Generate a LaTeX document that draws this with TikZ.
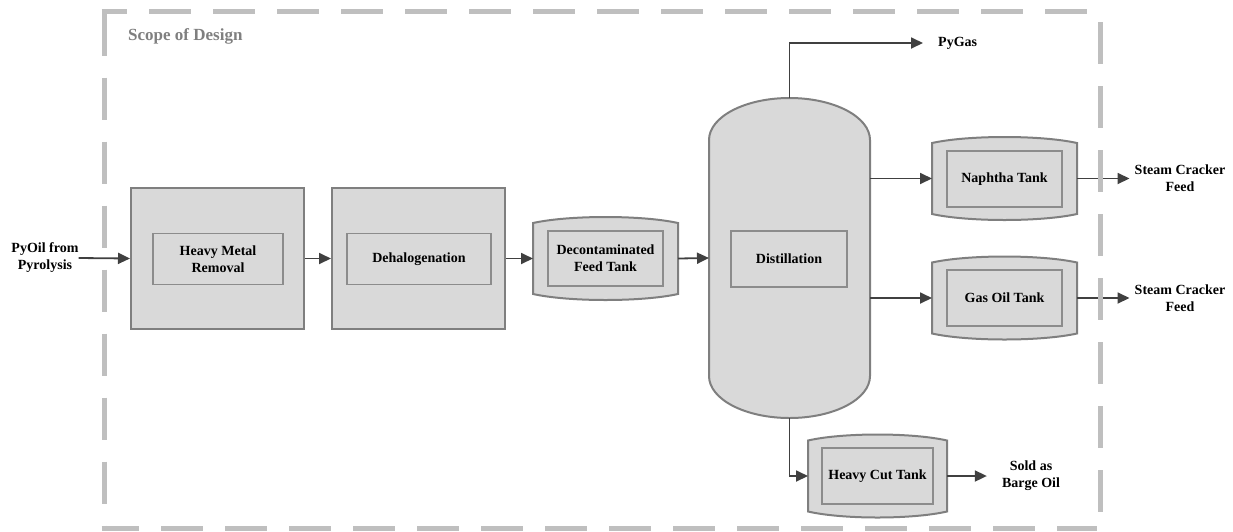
\documentclass[tikz,border=0pt]{standalone}
\usepackage{fontspec}
\setmainfont{Liberation Serif}
\usetikzlibrary{arrows.meta}
\definecolor{fillg}{HTML}{D9D9D9}
\definecolor{edgeg}{HTML}{7F7F7F}
\definecolor{inedge}{HTML}{8C8C8C}
\definecolor{arr}{HTML}{404040}
\definecolor{scopeg}{HTML}{BFBFBF}
\definecolor{scopetxt}{HTML}{7F7F7F}
\newcommand\lblfont{\fontsize{14}{17}\selectfont\bfseries}
\newcommand\tankshape[3]{% x1, x2, yc
  \draw[tankline] ({#1},{#3-35.5})
    .. controls ({#1+0.25*(#2-#1)},{#3-43.5}) and ({#2-0.25*(#2-#1)},{#3-43.5}) .. ({#2},{#3-35.5})
    -- ({#2},{#3+35.5})
    .. controls ({#2-0.25*(#2-#1)},{#3+43.5}) and ({#1+0.25*(#2-#1)},{#3+43.5}) .. ({#1},{#3+35.5})
    -- cycle;}
\begin{document}
\begin{tikzpicture}[x=1pt,y=-1pt,
  outerbox/.style={draw=edgeg, fill=fillg, line width=2pt, rectangle, inner sep=0pt},
  innerbox/.style={draw=inedge, line width=1.5pt, rectangle, inner sep=0pt, align=center, font=\lblfont},
  ghost/.style={draw=none, inner sep=0pt, outer sep=0pt, rectangle},
  flow/.style={draw=arr, line width=1.8pt, -{Triangle[length=12pt,width=11pt]}},
  lbl/.style={inner sep=0pt, align=center, font=\lblfont},
  tankline/.style={draw=edgeg, fill=fillg, line width=2pt},
  scopeline/.style={draw=scopeg, line width=5pt, dash pattern=on 42pt off 22pt}
]
\useasboundingbox (0,0) rectangle (1233,531);

% outer process blocks
\node[outerbox, minimum width=173pt, minimum height=141pt] (hmr) at (217.5,258.5) {};
\node[outerbox, minimum width=173pt, minimum height=141pt] (dehal) at (418.5,258.5) {};

% tanks
\tankshape{533}{678}{258.5}
\tankshape{932}{1077}{178.5}
\tankshape{932}{1077}{298}
\tankshape{808}{947}{476}
\node[ghost, minimum width=145pt, minimum height=71pt] (dft) at (605.5,258.5) {};
\node[ghost, minimum width=145pt, minimum height=71pt] (nap) at (1004.5,178.5) {};
\node[ghost, minimum width=145pt, minimum height=71pt] (gas) at (1004.5,298) {};
\node[ghost, minimum width=139pt, minimum height=71pt] (hct) at (877.5,476) {};

% distillation column
\draw[tankline] (709,140) .. controls (709,116.8) and (745,98) .. (789.5,98)
  .. controls (834,98) and (870,116.8) .. (870,140) -- (870,376)
  .. controls (870,399.2) and (834,418) .. (789.5,418)
  .. controls (745,418) and (709,399.2) .. (709,376) -- cycle;
\node[ghost, minimum width=161pt, minimum height=320pt] (col) at (789.5,258) {};

% inner boxes
\node[innerbox, minimum width=130pt, minimum height=51pt] (hmri) at (218,259) {Heavy Metal\\Removal};
\node[innerbox, minimum width=144pt, minimum height=51pt] (dehali) at (419,259) {Dehalogenation};
\node[innerbox, minimum width=115pt, minimum height=55pt] (dfti) at (605.5,258.5) {Decontaminated\\Feed Tank};
\node[innerbox, minimum width=116pt, minimum height=56pt] (coli) at (789,259) {Distillation};
\node[innerbox, minimum width=115pt, minimum height=56pt] (napi) at (1004.5,179) {Naphtha Tank};
\node[innerbox, minimum width=115pt, minimum height=56pt] (gasi) at (1004.5,298) {Gas Oil Tank};
\node[innerbox, minimum width=111pt, minimum height=56pt] (hcti) at (877.5,476) {Heavy Cut Tank};

% labels
\node[lbl] (pyoil) at (45,258) {PyOil from\\Pyrolysis};
\node[lbl, anchor=west] (pygas) at (938,43) {PyGas};
\node[lbl] (scf1) at (1180,178.5) {Steam Cracker\\Feed};
\node[lbl] (scf2) at (1180,298) {Steam Cracker\\Feed};
\node[lbl] (barge) at (1031,476) {Sold as\\Barge Oil};
\node[inner sep=0pt, anchor=west, font=\fontsize{17}{20}\selectfont\bfseries, text=scopetxt] (scope) at (128,36) {Scope of Design};

% connectors
\draw[flow] (pyoil.east) -- (hmr.west);
\draw[flow] (hmr.east) -- (dehal.west);
\draw[flow] (dehal.east) -- (dft.west);
\draw[flow] (dft.east) -- (col.west);
\draw[flow] (col.east |- nap.west) -- (nap.west);
\draw[flow] (col.east |- gas.west) -- (gas.west);
\draw[flow, shorten >=15pt] (col.north) |- (pygas.west);
\draw[flow] (col.south) |- (hct.west);
\draw[flow, shorten >=5pt] (nap.east) -- (scf1.west);
\draw[flow, shorten >=5pt] (gas.east) -- (scf2.west);
\draw[flow, shorten >=15pt] (hct.east) -- (barge.west);

% scope of design boundary
\coordinate (tl) at (104,11);
\coordinate (tr) at (1100,11);
\coordinate (bl) at (104,528.5);
\coordinate (br) at (1100,528.5);
\draw[scopeline, dash phase=16.5pt] ([xshift=-2.5pt]tl) -- (tr);
\draw[scopeline, dash phase=0pt] ([yshift=-2.5pt]tl) -- (bl);
\draw[scopeline, dash phase=53pt] (tr) -- (br);
\draw[scopeline, dash phase=4.5pt] ([xshift=-2.5pt]bl) -- ([xshift=-3pt]br);
\end{tikzpicture}
\end{document}
